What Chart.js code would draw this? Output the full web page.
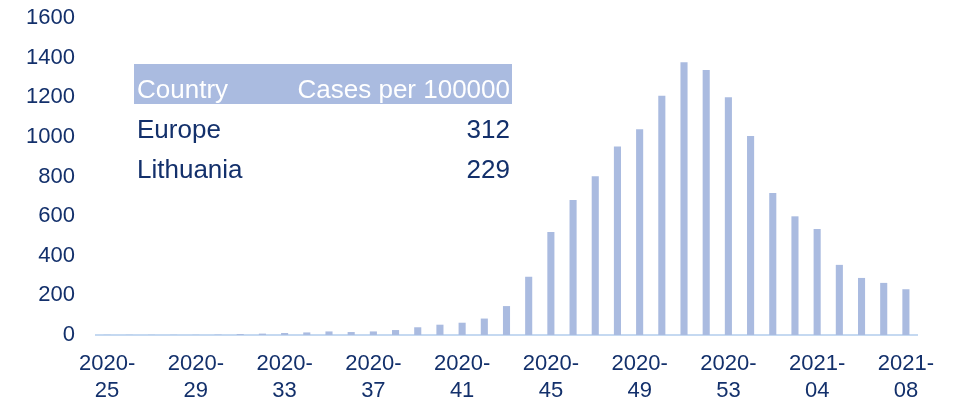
<!DOCTYPE html>
<html>
<head>
<meta charset="utf-8">
<script src="https://cdn.jsdelivr.net/npm/chart.js@4"></script>
<style>
  html, body { margin: 0; padding: 0; background: #fff; }
  #wrap { position: relative; width: 954px; height: 403px; }
  .tbl { position: absolute; left: 134px; width: 378px; font-family: "Liberation Sans", Arial, sans-serif; font-size: 26px; color: #13306b; }
  .row { display: flex; justify-content: space-between; height: 40px; line-height: 40px; padding: 0 2px 0 3px; }
  .head { background: #aabbe0; color: #fff; line-height: 50px; margin-bottom: 5px; }
</style>
</head>
<body>
<div id="wrap">
  <canvas id="chart" width="954" height="403"></canvas>
  <div class="tbl" id="tbl" style="top:64px"></div>
</div>
<script>
// semanas ISO
const weeks = [
  '2020-25','2020-26','2020-27','2020-28','2020-29','2020-30','2020-31','2020-32',
  '2020-33','2020-34','2020-35','2020-36','2020-37','2020-38','2020-39','2020-40',
  '2020-41','2020-42','2020-43','2020-44','2020-45','2020-46','2020-47','2020-48',
  '2020-49','2020-50','2020-51','2020-52','2020-53','2021-01','2021-02','2021-03',
  '2021-04','2021-05','2021-06','2021-07','2021-08'
];
const cases = [
  1, 1, 1, 1, 1, 2, 5, 7,
  10, 13, 18, 15, 18, 25, 39, 52,
  62, 83, 146, 294, 520, 682, 801, 951,
  1039, 1207, 1377, 1338, 1200, 1005, 717, 599,
  535, 354, 288, 263, 231
];
const tableHeader = ['Country', 'Cases per 100000'];
const tableCountries = ['Europe', 'Lithuania'];
const tableValues = [312, 229];

const textColor = '#13306b';
const barColor = '#aabbe0';
const font = { family: '"Liberation Sans", Arial, sans-serif', size: 22 };

// tabela por cima do gráfico
const tbl = document.getElementById('tbl');
let html = '<div class="row head"><span>' + tableHeader[0] + '</span><span>' + tableHeader[1] + '</span></div>';
tableCountries.forEach((c, i) => {
    html += '<div class="row"><span>' + c + '</span><span>' + tableValues[i] + '</span></div>';
});
tbl.innerHTML = html;

new Chart(document.getElementById('chart'), {
    type: 'bar',
    data: {
        labels: weeks,
        datasets: [{
            data: cases,
            backgroundColor: barColor,
            barPercentage: 0.32,
            categoryPercentage: 1
        }]
    },
    options: {
        responsive: false,
        animation: false,
        layout: { padding: { top: 18, right: 37, left: 0, bottom: 0 } },
        plugins: { legend: { display: false }, tooltip: { enabled: false } },
        scales: {
            x: {
                grid: { display: false, drawTicks: false },
                border: { display: true, color: '#c5d9f1', width: 2 },
                ticks: {
                    color: textColor, font: font, autoSkip: false, maxRotation: 0, padding: 16,
                    callback: function(v, i) {
                        if (i % 4 !== 0) return '';
                        const w = weeks[i];
                        return [w.slice(0, 5), w.slice(5)];
                    }
                },
                afterFit: s => { s.height = 68; }
            },
            y: {
                min: 0, max: 1600,
                grid: { display: false, drawTicks: false },
                border: { display: false },
                ticks: { stepSize: 200, color: textColor, font: font, padding: 21, callback: v => String(v) },
                afterFit: s => { s.width = 96; s.paddingTop = 0; s.paddingBottom = 0; }
            }
        }
    }
});
</script>
</body>
</html>
